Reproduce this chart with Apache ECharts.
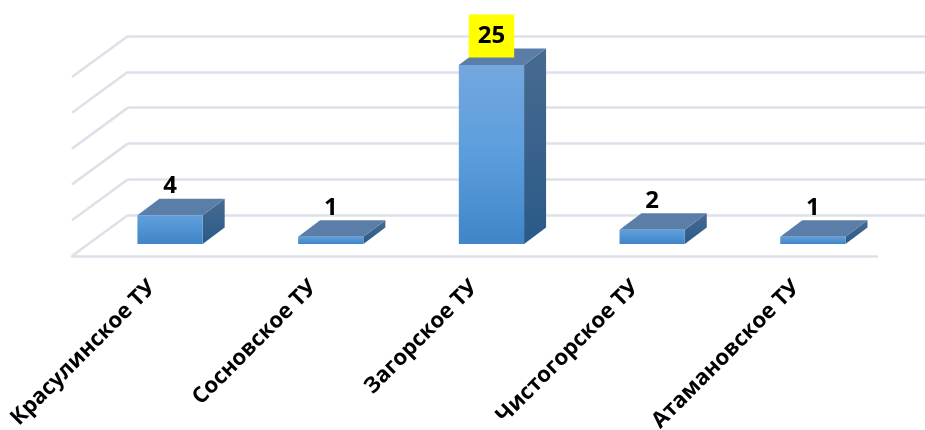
<!DOCTYPE html>
<html><head><meta charset="utf-8">
<style>html,body{margin:0;padding:0;background:#fff}#c{width:925px;height:430px}</style>
<script src="https://cdn.jsdelivr.net/npm/echarts@6/dist/echarts.min.js"></script>
</head><body><div id="c"></div>
<script>
const categories = ['Красулинское ТУ','Сосновское ТУ','Загорское ТУ','Чистогорское ТУ','Атамановское ТУ'];
const values = [4,1,25,2,1];
const wallTicks = [0,5,10,15,20,25];

const FONT = '"Open Sans", sans-serif';
const GRID_COLOR = '#dfe1ea';
const WALL_DX = -56, WALL_DY = 41;      // wall-to-front diagonal
const BAR_DX = -38.3, BAR_DY = 29;      // bar front plane relative to the wall
const DEPTH_X = 22, DEPTH_Y = -16.5;    // bar depth
const maxValue = Math.max(...values);

const chart = echarts.init(document.getElementById('c'), null, {renderer:'canvas'});
const lg = (stops) => new echarts.graphic.LinearGradient(0,0,0,1,stops.map((c,i)=>({offset:i/(stops.length-1),color:c})));

function renderDiagonal(params, api){
  const cs = params.coordSys;
  const y = api.coord([0, api.value(0)])[1];
  return {type:'line', silent:true,
    shape:{x1:cs.x,y1:y,x2:cs.x+WALL_DX,y2:y+WALL_DY},
    style:{stroke:GRID_COLOR,lineWidth:2.6,fill:null}};
}
function renderBar(params, api){
  const i = api.value(0), v = api.value(1);
  const top = api.coord([i,v]), base = api.coord([i,0]);
  const w = api.size([1,0])[0]*0.406;
  const cx = top[0]+BAR_DX;
  const l = cx-w/2, r = cx+w/2, t = top[1]+BAR_DY, b = base[1]+BAR_DY;
  const poly = (pts, fill) => ({type:'polygon',shape:{points:pts},style:{fill}});
  return {type:'group',children:[
    poly([[r,t],[r+DEPTH_X,t+DEPTH_Y],[r+DEPTH_X,b+DEPTH_Y],[r,b]], lg(['#486a90','#2a5a89'])),
    poly([[l,t],[l+DEPTH_X,t+DEPTH_Y],[r+DEPTH_X,t+DEPTH_Y],[r,t]], '#5a7ea8'),
    {type:'rect',shape:{x:l,y:t,width:w,height:b-t},
      style:{fill: v===maxValue ? lg(['#74a7de','#5b9edd','#3f85c7']) : lg(['#619fdd','#3f85c7'])}},
    {type:'text',z2:10,x:cx,y:t-29,style:{
      text:String(v),font:'bold 24px '+FONT,fill:'#000',align:'center',verticalAlign:'middle',
      backgroundColor:v===maxValue?'#ffff00':undefined,
      padding:v===maxValue?[10,9,9,9]:0}}
  ]};
}

chart.setOption({
  animation:false,
  backgroundColor:'#fff',
  grid:[
    {left:128,width:803.5,top:36,height:179,outerBoundsMode:'none'},
    {left:72,width:805,top:200,height:56,outerBoundsMode:'none'}
  ],
  xAxis:[
    {type:'category',gridIndex:0,data:categories,show:false},
    {type:'category',gridIndex:1,data:categories,
      axisLine:{lineStyle:{color:GRID_COLOR,width:2.6}},axisTick:{show:false},
      axisLabel:{interval:0,rotate:45,margin:28,fontFamily:FONT,fontWeight:'bold',fontSize:22,color:'#000'}}
  ],
  yAxis:[
    {type:'value',gridIndex:0,min:0,max:25,interval:5,
      axisLine:{show:false},axisTick:{show:false},axisLabel:{show:false},
      splitLine:{lineStyle:{color:GRID_COLOR,width:2.6}}},
    {type:'value',gridIndex:1,min:0,max:1,show:false,splitLine:{show:false}}
  ],
  series:[
    {type:'custom',xAxisIndex:0,yAxisIndex:0,clip:false,z:1,silent:true,
      data:wallTicks.map(v=>[v]),encode:{y:0},renderItem:renderDiagonal},
    {type:'custom',xAxisIndex:0,yAxisIndex:0,clip:false,z:3,silent:true,
      data:values.map((v,i)=>[i,v]),encode:{x:0,y:1},renderItem:renderBar}
  ]
});
</script></body></html>
